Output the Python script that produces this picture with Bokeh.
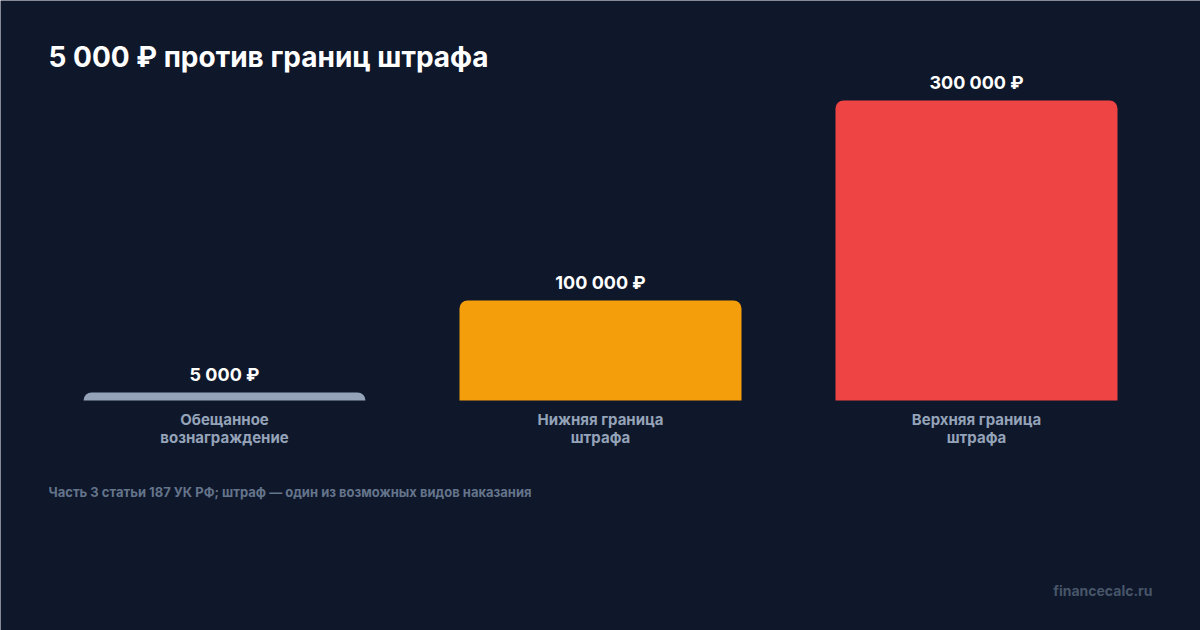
from bokeh.plotting import figure
from bokeh.models import ColumnDataSource, Range1d
from bokeh.core.properties import value
from bokeh.embed import file_html
from bokeh.resources import INLINE

# Данные
categories = ["Обещанное\nвознаграждение", "Нижняя граница\nштрафа", "Верхняя граница\nштрафа"]
amounts = [5000, 100000, 300000]
amount_labels = ["5 000 ₽", "100 000 ₽", "300 000 ₽"]
colors = ["#94a3b8", "#f59e0b", "#ef4444"]

title_text = "5 000 ₽ против границ штрафа"
note_text = "Часть 3 статьи 187 УК РФ; штраф — один из возможных видов наказания"
brand_text = "financecalc.ru"

BG = "#0f172a"
FONT = value("Inter")

W, H = 1200, 630
PX = 1000          # рублей на пиксель
BASE = 400         # пиксель базовой линии от верха
STEP = 376         # шаг категорий в пикселях
FIRST = 224        # центр первой категории


def sx(px):
    return -FIRST / STEP + px / STEP


def sy(py):
    return (BASE - py) * PX


idx = list(range(len(categories)))
shown = [max(v, 8 * PX) for v in amounts]  # минимальная видимая высота

source = ColumnDataSource(dict(
    x=idx, top=shown, amount=amounts, label=amount_labels,
    cat=categories, color=colors,
    label_y=[v + 18 * PX for v in shown],
))

p = figure(width=W, height=H, output_backend="svg", toolbar_location=None,
           x_range=Range1d(sx(0), sx(W)), y_range=Range1d(sy(H), sy(0)),
           min_border=0)
p.axis.visible = False
p.grid.visible = False
p.outline_line_color = None
p.background_fill_color = BG
p.border_fill_color = BG

# Столбцы
p.vbar(x="x", top="top", bottom=0, width=282 / STEP, source=source,
       fill_color="color", line_color=None, border_radius=(8, 8, 0, 0))

# Подписи значений
p.text(x="x", y="label_y", text="label", source=source, text_font=FONT,
       text_font_style="bold", text_font_size="18px", text_color="#ffffff",
       text_align="center", text_baseline="middle")

# Подписи категорий
p.text(x="x", y=sy(409), text="cat", source=source, text_font=FONT,
       text_font_style="bold", text_font_size="15px", text_color="#94a3b8",
       text_align="center", text_baseline="top", text_line_height=0.98)

# Заголовок
p.text(x=[sx(48)], y=[sy(56)], text=[title_text], text_font=FONT,
       text_font_style="bold", text_font_size="28px", text_color="#ffffff",
       text_align="left", text_baseline="middle")

# Примечание
p.text(x=[sx(48)], y=[sy(491)], text=[note_text], text_font=FONT,
       text_font_style="bold", text_font_size="13px", text_color="#64748b",
       text_align="left", text_baseline="middle")

# Источник
p.text(x=[sx(1152)], y=[sy(590)], text=[brand_text], text_font=FONT,
       text_font_style="bold", text_font_size="14px", text_color="#475569",
       text_align="right", text_baseline="middle")

open("out.html", "w").write(file_html(p, INLINE))
